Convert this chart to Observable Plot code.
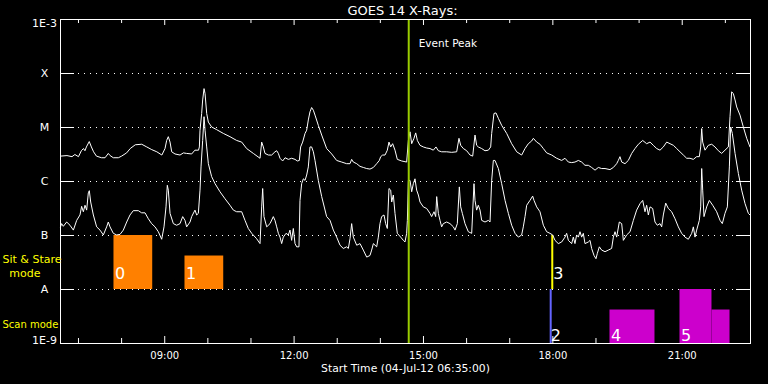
<!DOCTYPE html>
<html><head><meta charset="utf-8">
<script src="https://cdn.jsdelivr.net/npm/d3@7"></script>
<script src="https://cdn.jsdelivr.net/npm/@observablehq/plot@0.6"></script>
<style>html,body{margin:0;padding:0;background:#000;overflow:hidden}#chart{width:768px;height:384px}</style>
</head><body><div id="chart"></div>
<script>
// ---- data (minutes since 04-Jul-12 06:35:00, log10 flux W/m^2) ----
const longMin = [0,9,16,20,25,29,32,34,36,40,43,46,50,57,62,66.5,69,73.5,80.5,85,92,97,104,113,120,127,134,141,145.4,147.7,150,152.4,154.7,159.3,166.3,171,175.5,182.5,187,192,193.2,194.1,196.4,197.8,199.7,201.1,203.4,205.7,210.3,217.3,226.6,235.8,245.1,252.1,259,268.3,277.6,279.9,282.2,284.5,289.2,293.8,298.4,300.8,303.1,305.4,309.1,312.4,317,321.6,326.3,329.5,332.3,334.1,336.9,340.2,342.5,344.8,347.1,349.4,351.8,354.1,358.7,363.4,370.3,377.3,384.2,391.2,398.1,402.8,405.1,407.4,412.1,416.7,421.3,426,430.6,435.3,439.9,443.6,445.5,448.2,451.5,454.7,457,459.4,462.1,465.4,468.6,474.7,481.6,484,486.3,488.6,491.8,494.2,496.5,500.2,504.8,509.5,514.1,518.7,522.4,525.7,530.3,537.3,544.2,551.2,554.4,556.8,560.5,565.1,569.8,573.5,576.7,579,581.3,586,590.6,595.3,598.5,599.9,603.1,605.9,609.2,613.8,620.8,627.7,634.7,641.6,646.3,650.9,655.5,657.9,662.5,667.1,671.8,676.4,683.4,690.3,697.3,701.9,706.6,711.2,715.8,720.5,725.1,729.7,734.4,739,743.7,748.3,752.9,757.6,764.5,769.2,773.8,776.1,778.4,780.8,785.4,790,794.7,799.3,804,810,815.5,820.2,824.8,829.5,834.1,838.7,843.4,848,852.7,857.3,861.9,866.6,871.2,875.8,880.5,885.1,888.8,890.7,892.1,893.5,896.7,901.3,906,910.6,915.3,919.9,924.5,929.2,931.5,933.8,936.1,938.5,940.8,945.4,950,954.7,959.3];
const longLog = [-5.53,-5.52,-5.54,-5.50,-5.54,-5.43,-5.39,-5.43,-5.36,-5.26,-5.36,-5.45,-5.53,-5.56,-5.56,-5.48,-5.52,-5.56,-5.56,-5.53,-5.47,-5.39,-5.32,-5.31,-5.36,-5.41,-5.45,-5.51,-5.39,-5.24,-5.17,-5.27,-5.45,-5.49,-5.51,-5.47,-5.48,-5.49,-5.42,-5.42,-5.36,-5.05,-4.74,-4.49,-4.28,-4.37,-4.74,-4.90,-4.99,-5.04,-5.11,-5.17,-5.24,-5.27,-5.39,-5.48,-5.57,-5.27,-5.36,-5.48,-5.51,-5.51,-5.45,-5.43,-5.48,-5.57,-5.62,-5.56,-5.59,-5.57,-5.59,-5.62,-5.61,-5.36,-5.27,-5.11,-5.05,-4.86,-4.71,-4.63,-4.68,-4.77,-4.96,-5.14,-5.39,-5.49,-5.61,-5.64,-5.67,-5.67,-5.59,-5.64,-5.67,-5.72,-5.74,-5.76,-5.77,-5.74,-5.67,-5.61,-5.54,-5.51,-5.51,-5.42,-5.27,-5.36,-5.30,-5.42,-5.59,-5.62,-5.64,-5.24,-5.08,-5.30,-5.20,-5.10,-5.24,-5.33,-5.36,-5.38,-5.39,-5.42,-5.36,-5.43,-5.45,-5.45,-5.46,-5.45,-5.20,-5.33,-5.39,-5.43,-5.51,-5.53,-5.14,-5.33,-5.36,-5.39,-5.43,-5.42,-5.36,-5.11,-4.74,-4.73,-4.83,-4.96,-5.11,-5.30,-5.45,-5.51,-5.39,-5.30,-5.25,-5.20,-5.27,-5.31,-5.39,-5.47,-5.51,-5.57,-5.61,-5.57,-5.64,-5.65,-5.64,-5.61,-5.64,-5.70,-5.70,-5.74,-5.79,-5.74,-5.76,-5.76,-5.78,-5.74,-5.67,-5.61,-5.54,-5.64,-5.67,-5.61,-5.48,-5.39,-5.31,-5.24,-5.30,-5.27,-5.33,-5.39,-5.42,-5.36,-5.27,-5.30,-5.33,-5.39,-5.45,-5.51,-5.57,-5.57,-5.59,-5.54,-5.54,-5.36,-5.02,-5.27,-5.42,-5.33,-5.31,-5.36,-5.43,-5.48,-5.42,-5.36,-4.80,-4.34,-4.37,-4.49,-4.62,-4.77,-4.99,-5.20,-5.36];

const shortMin = [0,1.6,3.9,8.6,13.2,17.9,22.5,27.1,29.4,31.8,34.1,36.4,38.7,40.1,42,45.7,50.3,55,59.6,64.2,66.5,68.9,73.5,78.1,82.8,87.4,92.1,96.7,101.3,108.3,112.9,117.6,122.2,126.8,131.5,136.1,140.8,144,146.8,148.6,150,152.4,157,161.6,166.3,170,173.2,175.5,180.2,182.5,187.1,189.5,191.8,194.1,195.5,197.8,199.7,201.1,203.4,205.7,210.3,215,221.9,228.9,235.8,240.5,245.1,252.1,256.7,261.3,266,272.9,277.6,279.9,281.3,283.1,286.9,291.5,296.1,298.4,300.8,303.1,305.4,307.7,310,313.8,317,319.3,321.6,323.9,326.3,328.6,331.8,333.2,335.5,337.9,340.2,342.5,344.8,347.1,349.4,351.8,354.1,358.7,363.4,370.3,375,379.6,384.2,388.9,393.5,398.1,400.5,402.8,405.1,407.4,412.1,416.7,421.3,426,430.6,432.9,435.3,439.9,442.2,444.5,446.8,450.1,452.4,454.7,457,459.4,460.8,463.1,465.4,468.6,473.3,477,479.3,481.6,482.6,484,486.3,488.6,490.9,493.2,495.5,497.9,500.2,504.8,509.5,514.1,516.4,519.7,522,523.4,525.7,528,530.3,532.6,537.3,541.9,546.6,548.9,552.1,554.9,556.8,559.1,562.8,567.4,572.1,575.3,576.7,579,581.3,583.7,586,590.6,595.3,597.6,599.9,602.2,604.5,609.2,613.8,618.5,623.1,627.7,632.4,637,641.6,643.9,646.3,648.6,653.2,656.9,658.8,662.5,667.1,671.8,676.4,681,684.8,688,692.6,697.3,701.9,704.2,706.6,711.2,713.5,715.8,718.1,720.5,722.8,725.1,727.4,729.7,734.4,736.7,739,742.3,745,746.9,749.7,752.9,757.6,762.2,766.8,769.2,771.5,773.8,777.5,780.8,783.1,787.7,792.4,797,801.6,806.3,810,813.2,815.5,817.9,820.2,823.9,827.1,830.4,834.1,836.4,838.7,842,845.7,850.3,855,859.6,864.2,868.9,873.5,878.2,880.5,882.8,885.1,888.8,890.7,892.1,893.5,895.3,899,902.7,907.4,912.9,917.6,920.8,924.5,927.8,930.6,932.4,934.7,938.5,943.1,947.7,952.4,957,959.3];
const shortLog = [-6.84,-6.78,-6.83,-6.75,-6.81,-6.90,-6.72,-6.62,-6.46,-6.56,-6.44,-6.53,-6.21,-6.17,-6.38,-6.62,-6.84,-6.90,-6.99,-6.84,-6.75,-6.84,-6.96,-6.99,-6.98,-6.90,-6.75,-6.62,-6.54,-6.54,-6.58,-6.58,-6.69,-6.78,-6.84,-6.93,-7.07,-6.84,-6.47,-6.07,-6.16,-6.59,-6.78,-6.81,-6.78,-6.65,-6.72,-6.84,-6.75,-6.65,-6.53,-6.62,-6.59,-6.16,-5.73,-5.24,-4.80,-5.05,-5.36,-5.67,-5.91,-6.04,-6.19,-6.32,-6.44,-6.53,-6.56,-6.56,-6.72,-6.87,-6.96,-7.06,-7.15,-6.47,-6.13,-6.65,-6.84,-6.78,-6.65,-6.72,-6.84,-6.96,-7.03,-7.15,-7.03,-6.96,-6.99,-6.90,-7.09,-6.87,-7.15,-7.21,-7.21,-6.35,-6.04,-5.95,-5.98,-5.88,-5.73,-5.36,-5.36,-5.45,-5.61,-5.98,-6.28,-6.65,-6.72,-6.90,-7.03,-7.18,-7.24,-7.21,-7.24,-7.06,-6.78,-7.03,-7.18,-7.15,-7.27,-7.40,-7.37,-7.27,-7.15,-7.21,-7.03,-6.78,-6.65,-6.62,-6.78,-6.87,-6.13,-6.16,-6.38,-6.25,-6.59,-6.96,-7.03,-7.09,-7.12,-6.96,-6.72,-5.98,-5.98,-6.19,-6.04,-5.95,-6.16,-6.25,-6.38,-6.47,-6.50,-6.59,-6.65,-6.56,-6.65,-6.28,-6.59,-6.72,-6.84,-6.78,-6.75,-6.78,-6.84,-6.90,-6.78,-6.10,-6.47,-6.59,-6.78,-6.93,-6.96,-6.04,-6.35,-6.53,-6.44,-6.53,-6.72,-6.75,-6.72,-6.75,-5.98,-5.61,-5.61,-5.76,-6.04,-6.35,-6.59,-6.81,-6.96,-7.03,-6.99,-6.84,-6.65,-6.44,-6.35,-6.27,-6.35,-6.47,-6.56,-6.81,-6.93,-6.96,-6.99,-7.09,-7.15,-7.12,-7.03,-6.96,-7.09,-7.15,-7.03,-7.15,-6.99,-7.03,-6.93,-7.03,-6.96,-7.15,-7.12,-7.09,-7.24,-7.37,-7.43,-7.33,-7.21,-7.27,-7.30,-7.27,-7.24,-7.03,-6.93,-7.03,-6.75,-6.78,-7.09,-6.99,-6.93,-6.72,-6.53,-6.41,-6.35,-6.56,-6.44,-6.62,-6.47,-6.50,-6.75,-6.81,-6.78,-6.84,-6.62,-6.40,-6.50,-6.56,-6.69,-6.84,-6.96,-7.03,-7.07,-6.96,-6.84,-7.03,-6.90,-6.72,-6.47,-5.76,-6.16,-6.65,-6.47,-6.35,-6.44,-6.56,-6.72,-6.78,-6.59,-6.47,-5.73,-4.99,-5.11,-5.48,-5.85,-6.16,-6.41,-6.59,-6.62];

// y-axis levels (log10 flux) and their labels
const levelLog = [-9,-8,-7,-6,-5,-4,-3];
const levelLabels = ["1E-9","A","B","C","M","X","1E-3"];
// x ticks (hours of day)
const minorHours = [7,8,10,11,13,14,16,17,19,20,22];
const majorHours = [9,12,15,18,21];

// Sit & Stare observations (orange): minutes, log10 top; bottom at A
const sitLabels = ["0","1"];
const sitStart = [74.4,173.2];
const sitEnd = [128.3,227.1];
const sitTop = [-7,-7.38];
// Scan observations (magenta)
const scanLabels = ["4","5",""];
const scanStart = [764.5,861.9,906.4];
const scanEnd = [827.1,906.4,931.5];
const scanTop = [-8.38,-8,-8.38];
// single-time observations
const pointLabels = ["2","3"];
const pointMin = [682.0,684.2];
const pointBottom = [-9,-8];
const pointTop = [-8,-7];
const pointColors = ["#6464ff","#ffff00"];
// event peak
const eventPeakMin = 484.5;

// ---- build ----
const W=768,H=384,mL=60,mR=18,mT=19,mB=41;
const FW=W-mL-mR, FH=H-mT-mB;
const start = Date.UTC(2012,6,4,6,35);
const T = m => new Date(start + m*60000);
const HD = h => new Date(Date.UTC(2012,6,4,h));
const P = v => Math.pow(10,v);

const longData = longMin.map((m,i)=>({t:T(m), f:P(longLog[i])}));
const shortData = shortMin.map((m,i)=>({t:T(m), f:P(shortLog[i])}));
const levels = levelLog.map((v,i)=>({y:P(v), label:levelLabels[i]}));
const inner = levels.slice(1,-1);
const sit = sitLabels.map((l,i)=>({l, x1:T(sitStart[i]), x2:T(sitEnd[i]), y1:P(-8), y2:P(sitTop[i])}));
const scan = scanLabels.map((l,i)=>({l, x1:T(scanStart[i]), x2:T(scanEnd[i]), y1:P(-9), y2:P(scanTop[i])}));
const pts = pointLabels.map((l,i)=>({l, x:T(pointMin[i]), y1:P(pointBottom[i]), y2:P(pointTop[i]), c:pointColors[i]}));

const font = "DejaVu Sans, sans-serif";
const chart = Plot.plot({
  width:W, height:H, marginLeft:mL, marginRight:mR, marginTop:mT, marginBottom:mB,
  style:{background:"black", color:"white", fontFamily:font, overflow:"visible"},
  x:{type:"utc", domain:[T(0),T(960)], axis:null},
  y:{type:"log", domain:[1e-9,1e-3], axis:null},
  marks:[
    Plot.ruleY(inner, {y:"y", stroke:"white", strokeDasharray:"1,5"}),
    Plot.tickY(inner, {y:"y", stroke:"white", insetRight:FW-14}),
    Plot.tickY(inner, {y:"y", stroke:"white", insetLeft:FW-14}),
    Plot.tickX(minorHours, {x:HD, stroke:"white", insetTop:FH-5}),
    Plot.tickX(majorHours, {x:HD, stroke:"white", insetTop:FH-7}),
    Plot.tickX(minorHours, {x:HD, stroke:"white", insetBottom:FH-4}),
    Plot.tickX(majorHours, {x:HD, stroke:"white", insetBottom:FH-6}),
    Plot.rect(sit, {x1:"x1", x2:"x2", y1:"y1", y2:"y2", fill:"#ff8000"}),
    Plot.rect(scan, {x1:"x1", x2:"x2", y1:"y1", y2:"y2", fill:"#cc00cc"}),
    Plot.ruleX(pts, {x:"x", y1:"y1", y2:"y2", stroke:"c", strokeWidth:2}),
    Plot.line(longData, {x:"t", y:"f", stroke:"white", strokeWidth:1}),
    Plot.line(shortData, {x:"t", y:"f", stroke:"white", strokeWidth:1}),
    Plot.ruleX([eventPeakMin], {x:T, stroke:"#99cc00", strokeWidth:2}),
    Plot.frame({stroke:"white"}),
    // bar labels
    Plot.text(sit, {x:"x1", y:"y1", text:"l", dx:1, dy:-11, textAnchor:"start", lineAnchor:"bottom", fill:"white", fontSize:16}),
    Plot.text(pts.filter(d=>d.l==="3"), {x:"x", y:"y1", text:"l", dx:1, dy:-11, textAnchor:"start", lineAnchor:"bottom", fill:"white", fontSize:16}),
    Plot.text(scan.filter(d=>d.l), {x:"x1", y:"y1", text:"l", dx:1, dy:-3, textAnchor:"start", lineAnchor:"bottom", fill:"white", fontSize:16}),
    Plot.text(pts.filter(d=>d.l==="2"), {x:"x", y:"y1", text:"l", dx:0, dy:-3, textAnchor:"start", lineAnchor:"bottom", fill:"white", fontSize:16}),
    // y labels
    Plot.text(inner, {y:"y", text:"label", frameAnchor:"left", dx:-16, textAnchor:"middle", lineAnchor:"middle", fill:"white", fontSize:11}),
    Plot.text([levels[6]], {y:"y", text:"label", frameAnchor:"left", dx:-16, textAnchor:"middle", lineAnchor:"top", fill:"white", fontSize:11}),
    Plot.text([levels[0]], {y:"y", text:"label", frameAnchor:"left", dx:-16, textAnchor:"middle", lineAnchor:"bottom", fill:"white", fontSize:11}),
    // x labels
    Plot.text(majorHours, {x:HD, text:h=>d3.utcFormat("%H:%M")(HD(h)), frameAnchor:"bottom", dy:12, lineAnchor:"middle", fill:"white", fontSize:10}),
    Plot.text(["Start Time (04-Jul-12 06:35:00)"], {text:d=>d, frameAnchor:"bottom", dy:28, lineAnchor:"bottom", fill:"white", fontSize:10.8}),
    Plot.text(["GOES 14 X-Rays:"], {text:d=>d, frameAnchor:"top", dx:-3, dy:-5, lineAnchor:"bottom", fill:"white", fontSize:13}),
    Plot.text([eventPeakMin], {x:T, text:()=>"Event Peak", frameAnchor:"top", dx:10, dy:27.7, textAnchor:"start", lineAnchor:"bottom", fill:"white", fontSize:10.5}),
    // mode labels
    Plot.text(["Sit & Stare"], {y:()=>1e-8, text:d=>d, frameAnchor:"left", dx:-58, dy:-27, textAnchor:"start", lineAnchor:"bottom", fill:"#ffff00", fontSize:11}),
    Plot.text(["mode"], {y:()=>1e-8, text:d=>d, frameAnchor:"left", dx:-35.7, dy:-13, textAnchor:"middle", lineAnchor:"bottom", fill:"#ffff00", fontSize:11}),
    Plot.text(["Scan mode"], {y:()=>1e-9, text:d=>d, frameAnchor:"left", dx:-58, dy:-15.3, textAnchor:"start", lineAnchor:"bottom", fill:"#ffff00", fontSize:10})
  ]
});
document.getElementById("chart").append(chart);
</script>
</body></html>
